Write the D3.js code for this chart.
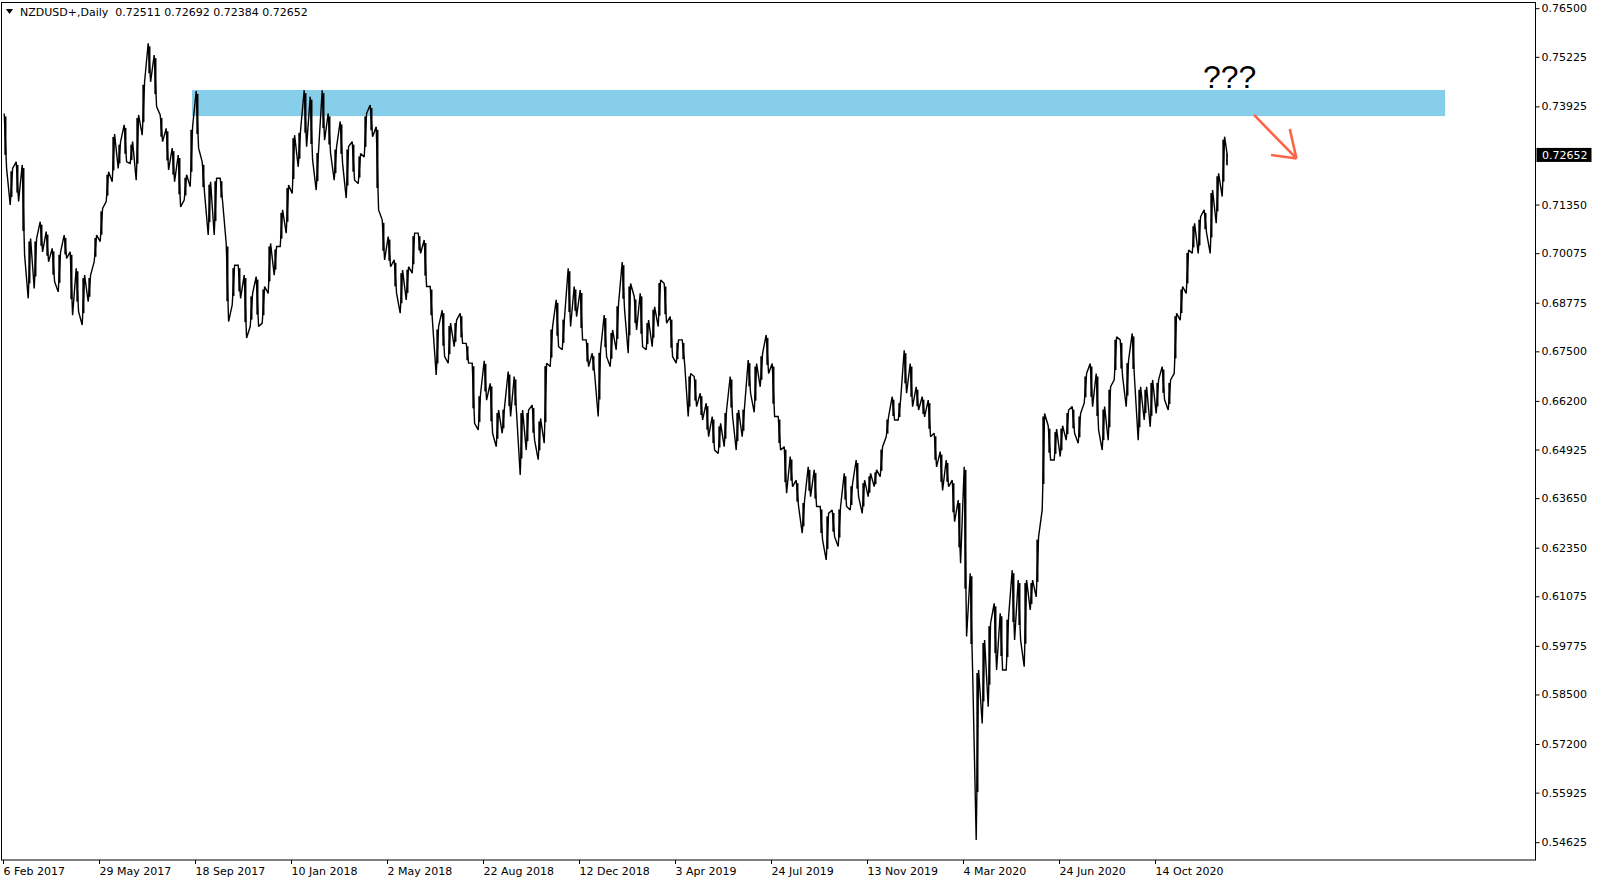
<!DOCTYPE html>
<html><head><meta charset="utf-8">
<script src="https://cdn.jsdelivr.net/npm/d3@7/dist/d3.min.js"></script>
<style>html,body{margin:0;padding:0;background:#fff;} svg{display:block;}</style>
</head><body>
<svg id="chart" width="1600" height="884"></svg>
<script>
// ---------- data ----------
const symbolTitle = "NZDUSD+,Daily";
const lastBarOHLC = [0.72511, 0.72692, 0.72384, 0.72652];
const barsPerGroup = 5; // each entry below spans 5 daily bars

const groupHigh = [
0.7374,0.7230,0.7247,0.7239,0.7046,0.7046,0.7090,0.7064,0.7020,0.7011,
0.7055,0.7011,0.6968,0.6950,0.6950,0.7055,0.7125,0.7221,0.7320,0.7300,
0.7344,0.7300,0.7370,0.7457,0.7558,0.7527,0.7370,0.7335,0.7283,0.7265,
0.7213,0.7339,0.7433,0.7247,0.7195,0.7204,0.7204,0.7033,0.6976,0.6976,
0.6950,0.6902,0.6946,0.6920,0.7033,0.7025,0.7121,0.7186,0.7317,0.7331,
0.7435,0.7418,0.7278,0.7435,0.7374,0.7287,0.7353,0.7287,0.7300,0.7269,
0.7374,0.7396,0.7339,0.7095,0.7051,0.6990,0.6963,0.6972,0.7060,0.7060,
0.7042,0.6920,0.6815,0.6858,0.6824,0.6832,0.6850,0.6771,0.6719,0.6640,
0.6725,0.6666,0.6596,0.6605,0.6697,0.6684,0.6596,0.6596,0.6609,0.6574,
0.6719,0.6815,0.6885,0.6841,0.6968,0.6920,0.6911,0.6780,0.6745,0.6754,
0.6845,0.6806,0.6876,0.6984,0.6928,0.6894,0.6902,0.6832,0.6867,0.6937,
0.6928,0.6841,0.6780,0.6780,0.6692,0.6684,0.6640,0.6614,0.6579,0.6561,
0.6596,0.6684,0.6596,0.6605,0.6727,0.6718,0.6745,0.6793,0.6718,0.6579,
0.6500,0.6474,0.6412,0.6360,0.6447,0.6439,0.6343,0.6325,0.6334,0.6343,
0.6430,0.6404,0.6465,0.6412,0.6430,0.6439,0.6500,0.6579,0.6631,0.6622,
0.6753,0.6718,0.6657,0.6631,0.6622,0.6535,0.6487,0.6465,0.6412,0.6360,
0.6447,0.6168,0.5914,0.5993,0.6037,0.6089,0.6063,0.6054,0.6176,0.6150,
0.6150,0.6150,0.6264,0.6587,0.6555,0.6546,0.6555,0.6596,0.6605,0.6587,
0.6692,0.6718,0.6692,0.6605,0.6657,0.6788,0.6780,0.6727,0.6797,0.6657,
0.6657,0.6675,0.6675,0.6710,0.6675,0.6850,0.6920,0.7016,0.7086,0.7103,
0.7121,0.7173,0.7217,0.7313
];
const groupLow = [
0.7230,0.7134,0.7143,0.7003,0.6889,0.6915,0.7011,0.6985,0.6933,0.6906,
0.6994,0.6845,0.6854,0.6819,0.6880,0.6985,0.7038,0.7143,0.7195,0.7230,
0.7247,0.7243,0.7199,0.7317,0.7457,0.7392,0.7300,0.7226,0.7195,0.7129,
0.7147,0.7182,0.7283,0.7164,0.7055,0.7055,0.7143,0.6828,0.6872,0.6889,
0.6785,0.6815,0.6815,0.6824,0.6902,0.6950,0.7025,0.7060,0.7164,0.7234,
0.7287,0.7252,0.7173,0.7304,0.7269,0.7199,0.7243,0.7152,0.7199,0.7190,
0.7260,0.7313,0.7121,0.6990,0.6972,0.6902,0.6850,0.6885,0.6955,0.7007,
0.6920,0.6824,0.6688,0.6736,0.6719,0.6762,0.6771,0.6719,0.6561,0.6544,
0.6622,0.6535,0.6500,0.6535,0.6579,0.6587,0.6426,0.6491,0.6517,0.6466,
0.6509,0.6710,0.6762,0.6754,0.6815,0.6841,0.6780,0.6710,0.6692,0.6579,
0.6736,0.6710,0.6754,0.6858,0.6745,0.6806,0.6762,0.6754,0.6762,0.6815,
0.6824,0.6736,0.6719,0.6719,0.6579,0.6605,0.6570,0.6526,0.6491,0.6482,
0.6500,0.6579,0.6491,0.6526,0.6640,0.6590,0.6657,0.6692,0.6579,0.6491,
0.6378,0.6395,0.6343,0.6273,0.6369,0.6343,0.6255,0.6203,0.6264,0.6238,
0.6343,0.6334,0.6369,0.6325,0.6369,0.6395,0.6421,0.6526,0.6570,0.6570,
0.6640,0.6605,0.6596,0.6578,0.6526,0.6447,0.6385,0.6395,0.6303,0.6194,
0.6002,0.5914,0.5468,0.5774,0.5818,0.5914,0.5914,0.5914,0.5993,0.5993,
0.5923,0.6072,0.6106,0.6334,0.6465,0.6465,0.6474,0.6517,0.6535,0.6509,
0.6614,0.6605,0.6544,0.6491,0.6517,0.6675,0.6684,0.6605,0.6675,0.6517,
0.6570,0.6552,0.6587,0.6623,0.6596,0.6692,0.6832,0.6902,0.7007,0.7007,
0.7060,0.7007,0.7086,0.7156
];

const dateLabels = ["6 Feb 2017","29 May 2017","18 Sep 2017","10 Jan 2018","2 May 2018",
  "22 Aug 2018","12 Dec 2018","3 Apr 2019","24 Jul 2019","13 Nov 2019","4 Mar 2020",
  "24 Jun 2020","14 Oct 2020"];
const barsBetweenDateLabels = 80;

const priceTicks = [0.76500,0.75225,0.73925,0.71350,0.70075,0.68775,0.67500,0.66200,
  0.64925,0.63650,0.62350,0.61075,0.59775,0.58500,0.57200,0.55925,0.54625];

// annotation (in bar index / price units)
const zoneBars = [157.5, 1201.7];
const zonePrices = [0.73670, 0.74355];
const questionText = "???";
const questionAnchor = [1000, 0.7441];
const arrowShaft = [[1042.5, 0.7370], [1077.9, 0.7256]];
const arrowHeadEnds = [[1072.3, 0.7333], [1056.7, 0.7265]];

// ---------- drawing ----------
const svg = d3.select("#chart");
const W = 1600, H = 884;
const plotRight = 1535.5, plotBottom = 860;

const x = d3.scaleLinear().domain([0, 1277.5]).range([3, 1536]);
const y = d3.scaleLinear().domain([0.54158, 0.76663]).range([860, 2]);

svg.append("rect").attr("width", W).attr("height", H).attr("fill", "#fff");

// zone
svg.append("rect")
  .attr("x", x(zoneBars[0])).attr("width", x(zoneBars[1]) - x(zoneBars[0]))
  .attr("y", y(zonePrices[1])).attr("height", y(zonePrices[0]) - y(zonePrices[1]))
  .attr("fill", "#87CEEB");

// price path (zig-zag through each group's extremes)
const pts = [];
const n = groupHigh.length;
for (let k = 0; k < n; k++) {
  const mid = (groupHigh[k] + groupLow[k]) / 2;
  const nextMid = k < n - 1 ? (groupHigh[k + 1] + groupLow[k + 1]) / 2 : lastBarOHLC[3];
  const rising = nextMid >= mid;
  const i0 = k * barsPerGroup + 1, i1 = k * barsPerGroup + 3;
  if (rising) { pts.push([i0, groupLow[k]]); pts.push([i1, groupHigh[k]]); }
  else { pts.push([i0, groupHigh[k]]); pts.push([i1, groupLow[k]]); }
}
const lastIdx = n * barsPerGroup;
pts.push([lastIdx, lastBarOHLC[1]]);
pts.push([lastIdx, lastBarOHLC[2]]);
pts.push([lastIdx, lastBarOHLC[3]]);

// group range bodies
svg.append("g").selectAll("rect").data(d3.range(n)).join("rect")
  .attr("x", k => x(k * barsPerGroup + 1.1))
  .attr("width", k => x(k * barsPerGroup + 2.9) - x(k * barsPerGroup + 1.1))
  .attr("y", k => y(groupHigh[k]) + Math.min(3, (y(groupLow[k]) - y(groupHigh[k])) * 0.15))
  .attr("height", k => Math.max(0, (y(groupLow[k]) - y(groupHigh[k])) * 0.7))
  .attr("fill", "#000");

const line = d3.line().x(d => x(d[0])).y(d => y(d[1]));
svg.append("path").datum(pts).attr("d", line)
  .attr("fill", "none").attr("stroke", "#000").attr("stroke-width", 1.4)
  .attr("stroke-linejoin", "miter").attr("stroke-miterlimit", 2);

// last bar OHLC
const lb = svg.append("g").attr("stroke", "#000").attr("stroke-width", 1);
lb.append("line").attr("x1", x(lastIdx)).attr("x2", x(lastIdx)).attr("y1", y(lastBarOHLC[1])).attr("y2", y(lastBarOHLC[2]));
lb.append("line").attr("x1", x(lastIdx) - 1).attr("x2", x(lastIdx)).attr("y1", y(lastBarOHLC[0])).attr("y2", y(lastBarOHLC[0]));
lb.append("line").attr("x1", x(lastIdx)).attr("x2", x(lastIdx) + 1).attr("y1", y(lastBarOHLC[3])).attr("y2", y(lastBarOHLC[3]));

// frame
svg.append("rect").attr("x", 1.5).attr("y", 2.5).attr("width", plotRight - 1.5).attr("height", plotBottom - 2.5)
  .attr("fill", "none").attr("stroke", "#000").attr("stroke-width", 1);

const font = "'DejaVu Sans', Verdana, sans-serif";

// right price axis
const yAxis = d3.axisRight(y).tickValues(priceTicks).tickSize(4).tickSizeOuter(0).tickPadding(2)
  .tickFormat(d3.format(".5f"));
const ya = svg.append("g").attr("transform", `translate(${plotRight},0)`).call(yAxis);
ya.select(".domain").remove();
ya.selectAll("text").attr("font-family", font).attr("font-size", 11).attr("fill", "#000");
ya.selectAll("line").attr("stroke", "#000");

// bottom date axis
const dateTickIdx = dateLabels.map((d, i) => i * barsBetweenDateLabels);
const xAxis = d3.axisBottom(x).tickValues(dateTickIdx).tickSize(4).tickSizeOuter(0).tickPadding(3)
  .tickFormat((d, i) => dateLabels[i]);
const xa = svg.append("g").attr("transform", `translate(0,${plotBottom})`).call(xAxis);
xa.select(".domain").remove();
xa.selectAll("text").attr("font-family", font).attr("font-size", 11).attr("fill", "#000")
  .attr("text-anchor", "start").attr("x", 0);
xa.selectAll("line").attr("stroke", "#000");

// current price label
const cp = lastBarOHLC[3];
svg.append("rect").attr("x", plotRight + 1).attr("y", y(cp) - 7).attr("width", 55).attr("height", 14).attr("fill", "#000");
svg.append("text").attr("x", plotRight + 6.5).attr("y", y(cp)).attr("dy", "0.35em")
  .attr("font-family", font).attr("font-size", 11).attr("fill", "#fff").text(d3.format(".5f")(cp));

// header
svg.append("path").attr("d", "M6,9 L13,9 L9.5,14 Z").attr("fill", "#000");
svg.append("text").attr("x", 20).attr("y", 16).attr("font-family", font).attr("font-size", 11).attr("fill", "#000")
  .attr("xml:space", "preserve")
  .text(symbolTitle + "  " + lastBarOHLC.map(d3.format(".5f")).join(" "));

// annotations
svg.append("text").attr("x", x(questionAnchor[0])).attr("y", y(questionAnchor[1]))
  .attr("font-family", "'Liberation Sans', Arial, sans-serif").attr("font-size", 32).attr("fill", "#000")
  .text(questionText);

const arrowColor = "#FF6347";
const ag = svg.append("g").attr("stroke", arrowColor).attr("stroke-width", 2.6).attr("stroke-linecap", "butt").attr("fill", "none");
ag.append("line").attr("x1", x(arrowShaft[0][0])).attr("y1", y(arrowShaft[0][1]))
  .attr("x2", x(arrowShaft[1][0])).attr("y2", y(arrowShaft[1][1]));
arrowHeadEnds.forEach(e => {
  ag.append("line").attr("x1", x(arrowShaft[1][0])).attr("y1", y(arrowShaft[1][1]))
    .attr("x2", x(e[0])).attr("y2", y(e[1]));
});
</script>
</body></html>
